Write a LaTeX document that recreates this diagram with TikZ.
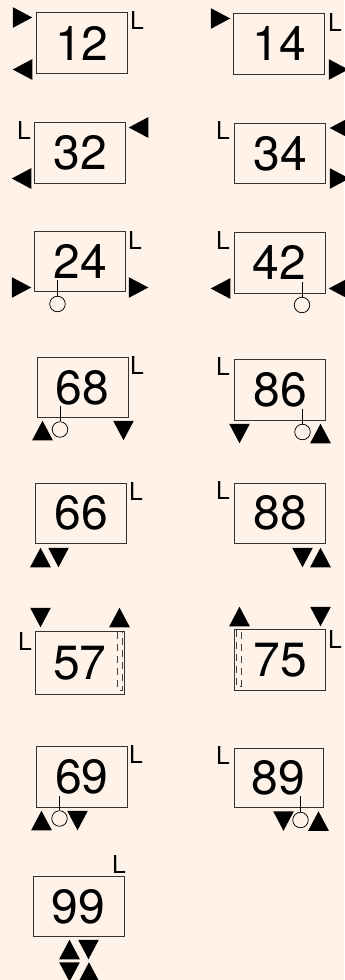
\documentclass[tikz,border=0pt]{standalone}
\usepackage{fontspec}
\setmainfont{TeX Gyre Heros}
\usetikzlibrary{shapes.geometric}
\definecolor{paper}{HTML}{FFF3E9}
\def\u{0.75pt}
\tikzset{
  unit/.style={draw=black!80,line width=0.9*\u,inner sep=0pt,minimum width=91*\u,minimum height=60.5*\u,font=\fontsize{36}{36}\selectfont},
  lbl/.style={inner sep=0pt,font=\fontsize{18.5}{18.5}\selectfont},
  tri/.style={isosceles triangle,isosceles triangle apex angle=56,fill=black,inner sep=0pt,outer sep=0pt,minimum width=19.5*\u,minimum height=19.5*\u,anchor=lower side},
  triR/.style={tri,shape border rotate=0,xshift=-9.75*\u},
  triL/.style={tri,shape border rotate=180,xshift=9.75*\u},
  triU/.style={tri,shape border rotate=90,yshift=-9.75*\u},
  triD/.style={tri,shape border rotate=270,yshift=9.75*\u},
  pin/.style={circle,draw=black,line width=0.75*\u,fill=paper,inner sep=0pt,minimum size=15.5*\u},
  stem/.style={line width=0.9*\u},
  gate/.style={line width=0.75*\u,black!75,dash pattern=on 7*\u off 5*\u}
}
\begin{document}
\begin{tikzpicture}[x=\u,y=-\u]
\fill[paper] (0,0) rectangle (344,980);
\useasboundingbox (0,0) rectangle (344,980);

% row 1
\node[unit] (u12) at (81.75,43) {12};
\node[lbl] (l12) at (137,21) {L};
\node[triR] (a12) at (22.5,17.5) {};
\node[triL] (b12) at (22.5,69.5) {};
\node[unit] (u14) at (279.25,43.75) {14};
\node[lbl] (l14) at (335,23) {L};
\node[triR] (a14) at (220.5,18.5) {};
\node[triR] (b14) at (338.5,69.5) {};

% row 2
\node[unit] (u32) at (80,152.75) {32};
\node[lbl] (l32) at (24,131) {L};
\node[triL] (a32) at (138.5,127.5) {};
\node[triL] (b32) at (21.5,178.5) {};
\node[unit] (u34) at (280,153.5) {34};
\node[lbl] (l34) at (223,131) {L};
\node[triL] (a34) at (339.5,128) {};
\node[triR] (b34) at (339.5,178.5) {};

% row 3
\node[unit] (u24) at (80,261.5) {24};
\node[lbl] (l24) at (135,241) {L};
\node[triR] (a24) at (21.5,287.5) {};
\node[triR] (b24) at (138.5,287.5) {};
\coordinate (s24) at (57.5,280);
\node[pin] (c24) at (57.5,304) {};
\draw[stem] (s24) -- (c24);
\node[unit] (u42) at (279.5,262.75) {42};
\node[lbl] (l42) at (223,241) {L};
\node[triL] (a42) at (220.5,288.5) {};
\node[triL] (b42) at (338.5,288.5) {};
\coordinate (s42) at (302,282);
\node[pin] (c42) at (302,305) {};
\draw[stem] (s42) -- (c42);

% row 4
\node[unit] (u68) at (82.5,387.5) {68};
\node[lbl] (l68) at (137,366) {L};
\node[triU] (a68) at (42.5,430.5) {};
\node[triD] (b68) at (123.5,430.5) {};
\coordinate (s68) at (60,406);
\node[pin] (c68) at (60,429.5) {};
\draw[stem] (s68) -- (c68);
\node[unit] (u86) at (280,389.75) {86};
\node[lbl] (l86) at (223,367) {L};
\node[triD] (a86) at (239.5,433.5) {};
\node[triU] (b86) at (320.5,433.5) {};
\coordinate (s86) at (302.5,409);
\node[pin] (c86) at (302.5,432) {};
\draw[stem] (s86) -- (c86);

% row 5
\node[unit] (u66) at (81,513.25) {66};
\node[lbl] (l66) at (136,492) {L};
\node[triU] (a66) at (40.5,557.5) {};
\node[triD] (b66) at (58.5,557.5) {};
\node[unit] (u88) at (280,513.25) {88};
\node[lbl] (l88) at (223,491) {L};
\node[triD] (a88) at (302.5,557.5) {};
\node[triU] (b88) at (320.5,557.5) {};

% row 6
\node[unit,minimum width=88.5*\u,minimum height=62.5*\u] (u57) at (79.75,662.75) {57};
\node[lbl] (l57) at (25,642) {L};
\node[triD] (a57) at (40.5,617.5) {};
\node[triU] (b57) at (119.5,617.5) {};
\draw[gate] (117.5,632) -- (117.5,690) -- (122,690) -- (122,632);
\node[unit] (u75) at (280,660) {75};
\node[lbl] (l75) at (335,640) {L};
\node[triU] (a75) at (239.5,616.5) {};
\node[triD] (b75) at (320.5,616.5) {};
\draw[gate] (236,630) -- (236,686) -- (241.3,686) -- (241.3,630);

% row 7
\node[unit] (u69) at (81.75,776.75) {69};
\node[lbl] (l69) at (136,755) {L};
\node[triU] (a69) at (41.5,820.5) {};
\node[triD] (b69) at (77.5,820.5) {};
\coordinate (s69) at (59.5,796);
\node[pin] (c69) at (59.5,818.5) {};
\draw[stem] (s69) -- (c69);
\node[unit,minimum width=89*\u,minimum height=59.5*\u] (u89) at (278.5,777.75) {89};
\node[lbl] (l89) at (223,756) {L};
\node[triD] (a89) at (283.5,821) {};
\node[triU] (b89) at (318.5,821) {};
\coordinate (s89) at (300.5,796);
\node[pin] (c89) at (300.5,820) {};
\draw[stem] (s89) -- (c89);

% row 8
\node[unit] (u99) at (78.5,906.5) {99};
\node[lbl] (l99) at (119,864) {L};
\node[triU] (a99) at (69.5,949.5) {};
\node[triD] (b99) at (88.5,949.5) {};
\node[triD] (d99) at (69.5,972) {};
\node[triU] (e99) at (89,972) {};
\end{tikzpicture}
\end{document}
